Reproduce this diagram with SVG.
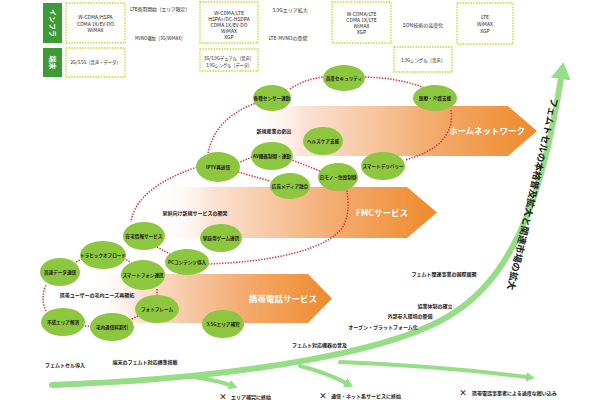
<svg xmlns="http://www.w3.org/2000/svg" width="610" height="400" viewBox="0 0 610 400">
<defs>
<style>
text{font-family:"Noto Sans CJK JP","Noto Sans",sans-serif;fill:#222;}
.t{font-size:5px;text-anchor:middle;}
.s{font-size:5px;font-weight:bold;}
.n ellipse{fill:#8dc63f;}
.n text{font-size:4.6px;font-weight:bold;text-anchor:middle;}
.dot{fill:none;stroke:#e0303a;stroke-width:1.5;stroke-dasharray:1.4 1.4;}
.box{fill:none;stroke:#c9d92a;stroke-width:1.3;stroke-dasharray:1.5 1.2;}
.lab{fill:#3d9b35;}
.lt{fill:#fff;font-size:7px;font-weight:bold;text-anchor:middle;}
.band polygon{fill:url(#og);}
.band text{fill:#fff;font-weight:bold;text-anchor:middle;font-size:8.5px;}
.g{fill:none;stroke:#96de86;stroke-linecap:round;}
</style>
<linearGradient id="og" x1="0" y1="0" x2="1" y2="0">
<stop offset="0" stop-color="#ffffff" stop-opacity="0"/>
<stop offset="0.2" stop-color="#fbe3d6"/>
<stop offset="0.65" stop-color="#f3aa6c"/>
<stop offset="1" stop-color="#ee8a2b"/>
</linearGradient>
<marker id="big" markerUnits="userSpaceOnUse" markerWidth="17" markerHeight="20" refX="1" refY="10" orient="auto">
<path d="M0,0 L17,10 L0,20 z" fill="#96de86"/>
</marker>
<marker id="sm" markerUnits="userSpaceOnUse" markerWidth="9" markerHeight="10" refX="1" refY="5" orient="auto">
<path d="M0,0 L9,5 L0,10 z" fill="#96de86"/>
</marker>
</defs>
<rect width="610" height="400" fill="#fff"/>

<!-- table -->
<g id="table">
<g id="lab-infra"><rect class="lab" x="43" y="3" width="19" height="40"/><text class="lt" transform="translate(52.5,23) rotate(90)" y="2.5">インフラ</text></g>
<g id="lab-term"><rect class="lab" x="43" y="48" width="19" height="29"/><text class="lt" transform="translate(52.5,62.5) rotate(90)" y="2.5">端末</text></g>
<g id="box1"><rect class="box" x="66" y="3" width="59" height="40"/>
<text class="t" x="95.5" y="18.5">W-CDMA/HSPA</text><text class="t" x="95.5" y="25.5">CDMA 1X/EV-DO</text><text class="t" x="95.5" y="32">WiMAX</text></g>
<g id="box2"><rect class="box" x="66" y="48" width="59" height="29"/><text class="t" x="95.5" y="64" textLength="50" lengthAdjust="spacingAndGlyphs">2G/3.5G（音声・データ）</text></g>
<text class="t" x="160" y="11" textLength="60" lengthAdjust="spacingAndGlyphs">LTE商用開始（エリア限定）</text>
<text class="t" x="160" y="40" textLength="50" lengthAdjust="spacingAndGlyphs">MVNO増加（3G/WiMAX）</text>
<g id="box3"><rect class="box" x="200" y="2" width="58" height="41"/>
<text class="t" x="229" y="15">W-CDMA/LTE</text><text class="t" x="229" y="21">HSPA+/DC-HSDPA</text><text class="t" x="229" y="27">CDMA 1X/EV-DO</text><text class="t" x="229" y="33">WiMAX</text><text class="t" x="229" y="39">XGP</text></g>
<g id="box4"><rect class="box" x="200" y="49" width="58" height="22"/>
<text class="t" x="229" y="59.5" textLength="50" lengthAdjust="spacingAndGlyphs">3G/3.9Gデュアル（音声）</text><text class="t" x="229" y="66.5" textLength="46" lengthAdjust="spacingAndGlyphs">3.9Gシングル（データ）</text></g>
<text class="t" x="290" y="12">3.9Gエリア拡大</text>
<text class="t" x="288" y="40">LTE-MVNOの登場</text>
<g id="box5"><rect class="box" x="332" y="2" width="59" height="41"/>
<text class="t" x="361.5" y="16">W-CDMA/LTE</text><text class="t" x="361.5" y="22">CDMA 1X/LTE</text><text class="t" x="361.5" y="28">WiMAX</text><text class="t" x="361.5" y="34">XGP</text></g>
<text class="t" x="423" y="27">SON技術の高度化</text>
<g id="box6"><rect class="box" x="394" y="47" width="58" height="25"/><text class="t" x="423" y="61.5" textLength="44" lengthAdjust="spacingAndGlyphs">3.9Gシングル（音声）</text></g>
<g id="box7"><rect class="box" x="457" y="3" width="56" height="41"/>
<text class="t" x="485" y="19">LTE</text><text class="t" x="485" y="26">WiMAX</text><text class="t" x="485" y="33">XGP</text></g>
</g>

<!-- bands -->
<g id="band-home" class="band"><polygon points="245,106 508,106 537,131 508,156 245,156"/><text x="487" y="134">ホームネットワーク</text></g>
<g id="band-fmc" class="band"><polygon points="155,187 407,187 437,212.5 407,238 155,238"/><text x="382" y="215.5">FMCサービス</text></g>
<g id="band-mobile" class="band"><polygon points="90,274 308,274 332,298.5 308,323 90,323"/><text x="283" y="302">携帯電話サービス</text></g>

<!-- connectors -->
<g id="connectors">
<path class="dot" d="M290,89 Q305,79 323,77"/>
<path class="dot" d="M365,77 Q400,78 425,88"/>
<path class="dot" d="M451,110 Q456,146 405,160"/>
<path class="dot" d="M320,171 L292,160"/>
<path class="dot" d="M252,157 L240,162"/>
<path class="dot" d="M238,172 L270,181"/>
<path class="dot" d="M208,153 Q215,118 256,103"/>
<path class="dot" d="M197,167 C165,178 135,195 131,222"/>
<path class="dot" d="M157,247 L170,254"/>
<path class="dot" d="M208,264 C270,262 330,250 344,225 C350,210 348,200 347,190"/>
<path class="dot" d="M76,262 L84,258"/>
<path class="dot" d="M124,258 L130,262"/>
<path class="dot" d="M157,289 L157,295"/>
<path class="dot" d="M138,316 L130,320"/>
<path class="dot" d="M85,326 L91,326"/>
<path class="dot" d="M46,311 Q40,298 46,285"/>
<path class="g" stroke-width="6" d="M52,385 C250,378 400,350 455,312 C520,270 545,180 561,78" marker-end="url(#big)"/>
<path class="g" stroke-width="4" d="M180,376 Q210,378 230,385" marker-end="url(#sm)"/>
<path class="g" stroke-width="4" d="M300,366 Q325,372 346,383" marker-end="url(#sm)"/>
<path class="g" stroke-width="4" d="M340,362 Q440,366 527,377" marker-end="url(#sm)"/>
</g>

<!-- nodes -->
<g id="n-security" class="n"><ellipse cx="344" cy="78" rx="21" ry="13"/><text x="344" y="79.6">高度セキュリティ</text></g>
<g id="n-sensor" class="n"><ellipse cx="272" cy="98" rx="19" ry="13"/><text x="272" y="99.6">各種センサー連動</text></g>
<g id="n-medical" class="n"><ellipse cx="435" cy="98" rx="22" ry="13"/><text x="435" y="99.6">医療・介護支援</text></g>
<g id="n-health" class="n"><ellipse cx="323" cy="141" rx="20" ry="14"/><text x="323" y="142.6">ヘルスケア支援</text></g>
<g id="n-av" class="n"><ellipse cx="272" cy="156" rx="21" ry="14"/><text x="272" y="157.6">AV機器制御・連動</text></g>
<g id="n-iptv" class="n"><ellipse cx="218" cy="167" rx="22" ry="15"/><text x="218" y="168.6">IPTV再送信</text></g>
<g id="n-white" class="n"><ellipse cx="338" cy="177" rx="20" ry="14"/><text x="338" y="178.6">白モノ・住設制御</text></g>
<g id="n-delivery" class="n"><ellipse cx="383" cy="166" rx="22" ry="14"/><text x="383" y="167.6">スマートデリバリー</text></g>
<g id="n-ad" class="n"><ellipse cx="290" cy="186" rx="20" ry="13"/><text x="290" y="187.6">広告メディア融合</text></g>
<g id="n-presence" class="n"><ellipse cx="144" cy="236" rx="21" ry="14"/><text x="144" y="237.6">在宅情報サービス</text></g>
<g id="n-game" class="n"><ellipse cx="221" cy="238" rx="21" ry="14"/><text x="221" y="239.6">家庭用ゲーム連携</text></g>
<g id="n-offload" class="n"><ellipse cx="103" cy="255" rx="23" ry="14"/><text x="103" y="256.6">トラヒックオフロード</text></g>
<g id="n-pc" class="n"><ellipse cx="187" cy="262" rx="22" ry="13"/><text x="187" y="263.6">PCコンテンツ導入</text></g>
<g id="n-hsdata" class="n"><ellipse cx="60" cy="272" rx="20" ry="14"/><text x="60" y="273.6">高速データ通信</text></g>
<g id="n-smartphone" class="n"><ellipse cx="143" cy="275" rx="22" ry="15"/><text x="143" y="276.6">スマートフォン連携</text></g>
<g id="n-photo" class="n"><ellipse cx="157" cy="309" rx="22" ry="14"/><text x="157" y="310.6">フォトフレーム</text></g>
<g id="n-deadzone" class="n"><ellipse cx="63" cy="322" rx="22" ry="14"/><text x="63" y="323.6">不感エリア解消</text></g>
<g id="n-discount" class="n"><ellipse cx="112" cy="327" rx="22" ry="14"/><text x="112" y="328.6">宅内通信料割引</text></g>
<g id="n-35g" class="n"><ellipse cx="223" cy="324" rx="21" ry="14"/><text x="223" y="325.6">3.5Gエリア補完</text></g>

<!-- labels -->
<text class="s" x="274" y="133" text-anchor="middle">新規産業の創出</text>
<text class="s" x="195" y="215" text-anchor="middle">家庭向け新規サービスの開発</text>
<text class="s" x="97" y="297" text-anchor="middle">携帯ユーザーの宅内ニーズ再開拓</text>

<text class="s" x="65" y="367" text-anchor="middle">フェムトセル導入</text>
<text class="s" x="145" y="364" text-anchor="middle">端末のフェムト対応標準搭載</text>
<text class="s" x="292" y="347">フェムト対応機器の普及</text>
<text class="s" x="383" y="329" text-anchor="middle" font-size="4.5">オープン・プラットフォーム化</text>
<text class="s" x="410" y="318" text-anchor="middle">外部参入環境の整備</text>
<text class="s" x="435" y="308" text-anchor="middle">協業体制の確立</text>
<text class="s" x="444" y="276" text-anchor="middle">フェムト関連事業の国際展開</text>

<text x="223" y="399.5" font-size="8" font-weight="bold" text-anchor="middle">×</text>
<text class="s" x="231" y="398.5">エリア補完に終始</text>
<text x="323" y="399" font-size="8" font-weight="bold" text-anchor="middle">×</text>
<text class="s" x="331" y="398">通信・ネット系サービスに終始</text>
<text x="463" y="396" font-size="8" font-weight="bold" text-anchor="middle">×</text>
<text class="s" x="472" y="395">携帯電話事業者による過度な囲い込み</text>

<text font-size="9.4" font-weight="bold" text-anchor="middle" transform="translate(529.3,193.3) rotate(103)">フェムトセルの本格普及拡大と関連市場の拡大</text>
</svg>
